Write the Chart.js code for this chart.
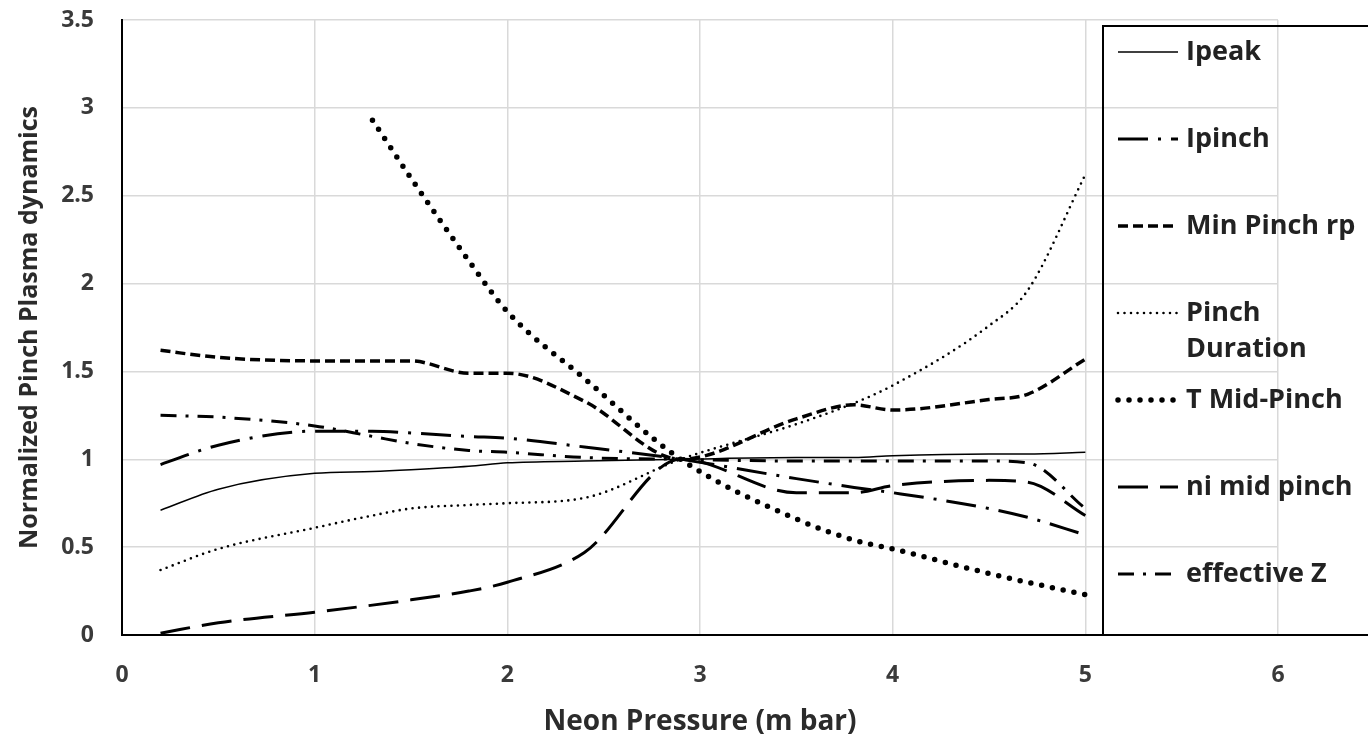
<!DOCTYPE html>
<html>
<head>
<meta charset="utf-8">
<title>Neon Pressure</title>
<script src="https://cdn.jsdelivr.net/npm/chart.js@4"></script>
<style>
  html, body { margin: 0; padding: 0; background: #fff; }
  #wrap { width: 1368px; height: 740px; position: relative; }
</style>
</head>
<body>
<div id="wrap"><canvas id="pinch-chart"></canvas></div>
<script>
// Presión de neón (eje x)
const pressure = [0.2, 0.5, 1, 1.3, 1.5, 1.8, 2, 2.4, 2.9, 3.5, 3.8, 4, 4.5, 4.7, 5];

// Valores normalizados de cada serie
const ipeak         = [0.71, 0.83, 0.92, 0.93, 0.94, 0.96, 0.98, 0.99, 1.0, 1.01, 1.01, 1.02, 1.03, 1.03, 1.04];
const ipinch        = [0.97, 1.08, 1.16, 1.16, 1.15, 1.13, 1.12, 1.07, 1.0, 0.89, 0.84, 0.81, 0.72, 0.67, 0.57];
const minPinchRp    = [1.62, 1.58, 1.56, 1.56, 1.56, 1.49, 1.49, 1.33, 1.0, 1.23, 1.31, 1.28, 1.34, 1.37, 1.57];
const pinchDuration = [0.37, 0.49, 0.61, 0.68, 0.72, 0.74, 0.75, 0.78, 1.0, 1.2, 1.32, 1.42, 1.76, 1.96, 2.62];
const tMidPinch     = [null, null, null, 2.93, 2.6, 2.13, 1.84, 1.46, 1.0, 0.66, 0.54, 0.49, 0.35, 0.3, 0.23];
const niMidPinch    = [0.01, 0.07, 0.13, 0.17, 0.2, 0.25, 0.3, 0.47, 1.0, 0.81, 0.81, 0.85, 0.88, 0.87, 0.68];
const effectiveZ    = [1.25, 1.24, 1.19, 1.13, 1.09, 1.05, 1.04, 1.01, 1.0, 0.99, 0.99, 0.99, 0.99, 0.98, 0.72];

// Etiquetas
const seriesNames = ['Ipeak', 'Ipinch', 'Min Pinch rp', 'Pinch Duration', 'T Mid-Pinch', 'ni mid pinch', 'effective Z'];
const xTicks = [0, 1, 2, 3, 4, 5, 6];
const yTicks = [0, 0.5, 1, 1.5, 2, 2.5, 3, 3.5];

const LABEL_FONT = '"Open Sans", Lato, sans-serif';

function toPoints(values) {
  return pressure.map(function(p, i) { return { x: p, y: values[i] }; });
}

// Estilos de línea (todas negras)
const lineStyles = [
  { width: 1.5, dash: [], cap: 'butt' },
  { width: 3, dash: [30, 10, 3, 10], cap: 'butt' },
  { width: 3.5, dash: [10, 5], cap: 'butt' },
  { width: 2.6, dash: [0, 6.5], cap: 'round' },
  { width: 5.5, dash: [0, 11], cap: 'round' },
  { width: 3, dash: [30, 12], cap: 'butt' },
  { width: 3, dash: [16, 9, 3, 9], cap: 'butt' }
];

// Leyenda dibujada dentro del área del gráfico
const boxLegend = {
  id: 'boxLegend',
  afterDraw(chart) {
    const ctx = chart.ctx;
    const area = chart.chartArea;
    const left = area.right - 175;
    const top = area.top + 6;

    ctx.save();
    ctx.strokeStyle = '#000';
    ctx.lineWidth = 2;
    ctx.strokeRect(left, top, chart.width - left + 10, area.bottom - top);

    ctx.font = 'bold 27px ' + LABEL_FONT;
    ctx.fillStyle = '#222';
    ctx.textBaseline = 'middle';

    let y = top + 26;
    chart.data.datasets.forEach(function(ds, i) {
      const st = lineStyles[i];
      ctx.beginPath();
      ctx.strokeStyle = '#000';
      ctx.lineWidth = st.width;
      ctx.lineCap = st.cap;
      ctx.setLineDash(st.dash);
      ctx.moveTo(left + 15, y);
      ctx.lineTo(left + 75, y);
      ctx.stroke();
      ctx.setLineDash([]);

      const words = ds.label === 'Pinch Duration' ? ['Pinch', 'Duration'] : [ds.label];
      words.forEach(function(w, k) {
        ctx.fillText(w, left + 83, y + k * 36);
      });
      y += 87;
    });
    ctx.restore();
  }
};

function drawChart() {
  const allValues = [ipeak, ipinch, minPinchRp, pinchDuration, tMidPinch, niMidPinch, effectiveZ];

  const datasets = allValues.map(function(values, i) {
    const st = lineStyles[i];
    return {
      label: seriesNames[i],
      data: toPoints(values),
      borderColor: '#000',
      backgroundColor: '#000',
      borderWidth: st.width,
      borderDash: st.dash,
      borderCapStyle: st.cap,
      cubicInterpolationMode: 'monotone',
      pointRadius: 0,
      fill: false
    };
  });

  const ctx = document.getElementById('pinch-chart').getContext('2d');

  if (window.pinchChartInstance) {
    window.pinchChartInstance.destroy();
  }

  window.pinchChartInstance = new Chart(ctx, {
    type: 'line',
    data: { datasets: datasets },
    options: {
      responsive: true,
      maintainAspectRatio: false,
      animation: false,
      layout: { padding: { top: 20, right: 90, left: 0, bottom: 0 } },
      plugins: {
        legend: { display: false },
        tooltip: { enabled: false }
      },
      scales: {
        x: {
          type: 'linear',
          min: xTicks[0],
          max: xTicks[xTicks.length - 1],
          afterBuildTicks: function(scale) { scale.ticks = xTicks.map(function(v) { return { value: v }; }); },
          afterFit: function(scale) { scale.height = 105; },
          grid: { color: '#d9d9d9', lineWidth: 1.5, tickLength: 23, tickColor: 'rgba(0,0,0,0)' },
          border: { color: '#000', width: 2 },
          ticks: {
            padding: 4,
            color: '#3a3a3a',
            callback: function(v) { return String(v); },
            font: { family: LABEL_FONT, size: 23, weight: 'bold' }
          },
          title: {
            display: true,
            text: 'Neon Pressure (m bar)',
            color: '#2b2b2b',
            padding: { top: 0, bottom: 1 },
            font: { family: LABEL_FONT, size: 28, weight: 'bold' }
          }
        },
        y: {
          min: yTicks[0],
          max: yTicks[yTicks.length - 1],
          afterBuildTicks: function(scale) { scale.ticks = yTicks.map(function(v) { return { value: v }; }); },
          afterFit: function(scale) { scale.width = 122; },
          grid: { color: '#d9d9d9', lineWidth: 1.5, tickLength: 22, tickColor: 'rgba(0,0,0,0)' },
          border: { color: '#000', width: 2 },
          ticks: {
            padding: 6,
            color: '#3a3a3a',
            callback: function(v) { return String(v); },
            font: { family: LABEL_FONT, size: 23, weight: 'bold' }
          },
          title: {
            display: true,
            text: 'Normalized Pinch Plasma dynamics',
            color: '#2b2b2b',
            padding: { top: 15, bottom: 0 },
            font: { family: LABEL_FONT, size: 25, weight: 'bold' }
          }
        }
      }
    },
    plugins: [boxLegend]
  });
}

document.addEventListener('DOMContentLoaded', function() {
  drawChart();
});
</script>
</body>
</html>
